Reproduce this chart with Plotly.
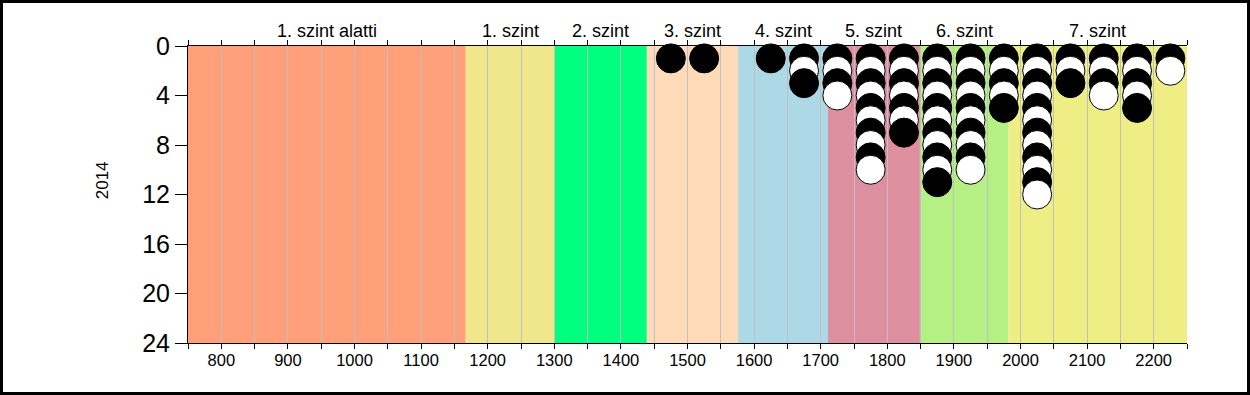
import plotly.graph_objects as go

# ---- data ----
band_labels = ["1. szint alatti", "1. szint", "2. szint", "3. szint", "4. szint", "5. szint", "6. szint", "7. szint"]
band_starts = [750, 1167, 1301, 1439, 1576, 1711, 1849, 1982]
band_ends = [1167, 1301, 1439, 1576, 1711, 1849, 1982, 2250]
band_colors = ["#FFA07A", "#F0E68C", "#00FF7F", "#FFDAB9", "#ADD8E6", "#DD8FA0", "#B4F084", "#EFEE84"]

score_bins = [1475, 1525, 1625, 1675, 1725, 1775, 1825, 1875, 1925, 1975, 2025, 2075, 2125, 2175, 2225]
counts = [1, 1, 1, 3, 4, 10, 7, 11, 10, 5, 12, 3, 4, 5, 2]

x_tick_vals = list(range(750, 2251, 50))
x_tick_text = [str(v) if (v % 100 == 0 and 800 <= v <= 2200) else "" for v in x_tick_vals]
y_tick_vals = [0, 4, 8, 12, 16, 20, 24]
y_title = "2014"

# ---- build points (stacked dots, drawn top to bottom) ----
pts = []
for xb, c in zip(score_bins, counts):
    for k in range(1, c + 1):
        pts.append((k, xb))
pts.sort()
xs = [p[1] for p in pts]
ys = [p[0] for p in pts]
cols = ["black" if k % 2 == 1 else "white" for k in ys]

fig = go.Figure()
fig.add_trace(go.Scatter(
    x=xs, y=ys, mode="markers",
    marker=dict(size=29, color=cols, line=dict(color="black", width=1)),
    showlegend=False, hoverinfo="skip", cliponaxis=False,
))

W, H = 1250, 395
ml, mr, mt, mb = 188, 63, 46, 52
pw, ph = W - ml - mr, H - mt - mb

shapes = []
for x0, x1, c in zip(band_starts, band_ends, band_colors):
    shapes.append(dict(type="rect", xref="x", yref="paper", x0=x0, x1=x1, y0=0, y1=1,
                       fillcolor=c, line=dict(width=0), layer="below"))
# outer frame
shapes.append(dict(type="rect", xref="paper", yref="paper",
                   x0=(-ml + 1.5) / pw, x1=1 + (mr - 1.5) / pw,
                   y0=(-mb + 1.5) / ph, y1=1 + (mt - 1.5) / ph,
                   line=dict(color="black", width=3), fillcolor="rgba(0,0,0,0)", layer="above"))

FONT = "Liberation Sans, Arial"
annotations = []
for lab, x0, x1 in zip(band_labels, band_starts, band_ends):
    annotations.append(dict(x=(x0 + x1) / 2, y=1, xref="x", yref="paper", yshift=15,
                            text=lab, showarrow=False, xanchor="center", yanchor="middle",
                            font=dict(family=FONT, size=18, color="black")))
annotations.append(dict(x=(102 - ml) / pw, y=0.548, xref="paper", yref="paper", text=y_title,
                        textangle=-90, showarrow=False, xanchor="center", yanchor="middle",
                        font=dict(family=FONT, size=17, color="black")))

fig.update_layout(
    width=W, height=H,
    margin=dict(l=ml, r=mr, t=mt, b=mb, pad=0),
    paper_bgcolor="white", plot_bgcolor="white",
    shapes=shapes, annotations=annotations,
    font=dict(family=FONT, color="black"),
    xaxis=dict(range=[750, 2250], tickvals=x_tick_vals, ticktext=x_tick_text,
               ticks="outside", ticklen=5, tickcolor="black", tickwidth=1,
               showline=True, linecolor="black", linewidth=1, mirror="ticks",
               showgrid=True, gridcolor="#C0C0C0", gridwidth=1, zeroline=False,
               ticklabelstandoff=-3,
               tickfont=dict(size=16.5, color="black")),
    yaxis=dict(range=[24, 0], tickvals=y_tick_vals,
               ticks="outside", ticklen=12, tickcolor="black", tickwidth=1,
               showline=True, linecolor="black", linewidth=1, mirror=False,
               showgrid=False, zeroline=False,
               tickfont=dict(size=25, color="black")),
)

fig.write_html("out.html")
